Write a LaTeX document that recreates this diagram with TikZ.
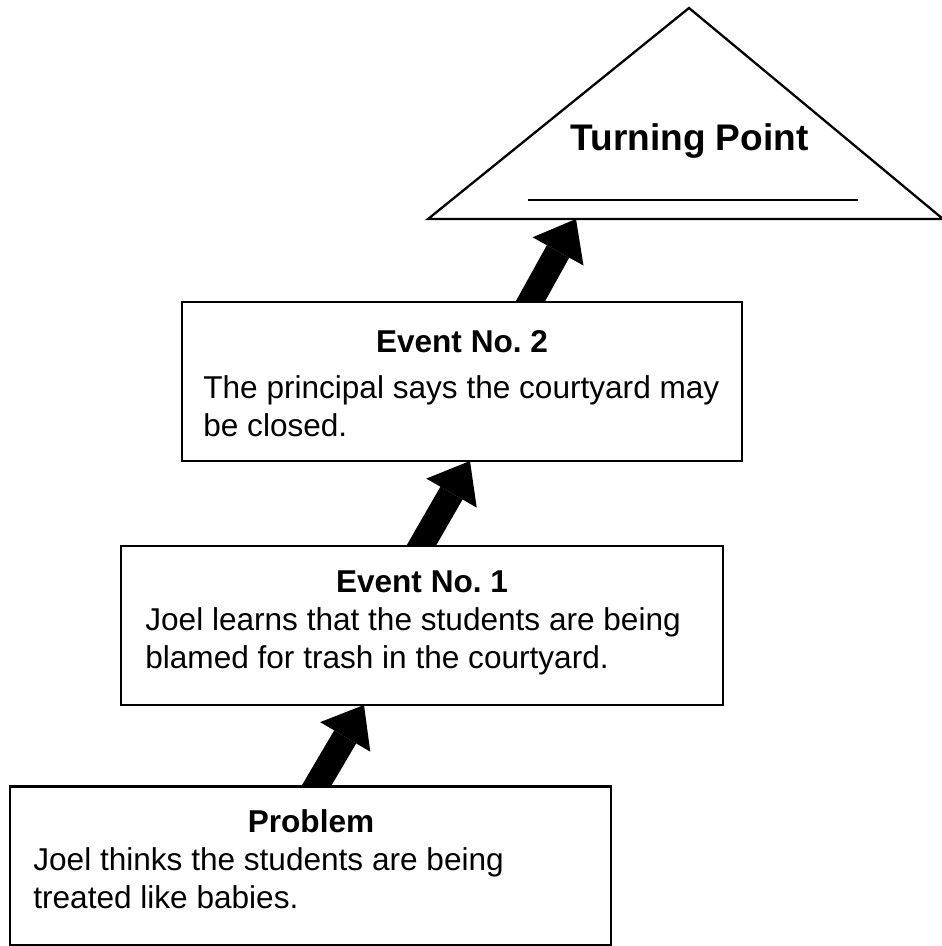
\documentclass[tikz,border=0pt]{standalone}
\usepackage{fontspec}
\setmainfont{Liberation Sans}
\usetikzlibrary{arrows.meta,calc,backgrounds}
\def\px{0.5669pt}
\tikzset{
  storybox/.style={draw, fill=white, line width=1.5pt, inner sep=0pt, outer sep=0pt, minimum height=159*\px},
  boxtitle/.style={anchor=base, inner sep=0pt, font=\fontsize{17.9}{21.5}\selectfont\bfseries\frenchspacing},
  boxtext/.style={anchor=base west, inner sep=0pt, font=\fontsize{17.9}{21.5}\selectfont},
  bigarrow/.style={line width=14.5pt, shorten <=-14pt, -{Triangle[width=33pt, length=21pt, line width=0pt]}},
}
\begin{document}
\begin{tikzpicture}[x=\px, y=-\px]
\useasboundingbox (0,0) rectangle (942,946);
% turning point
\coordinate (tpl) at (428,219);
\coordinate (apex) at (689,8);
\coordinate (tpr) at (943,219);
\draw[line width=1.3pt, line join=miter] (tpl) -- (apex) -- (tpr) -- cycle;
\node[inner sep=0pt, anchor=base, font=\fontsize{21}{25}\selectfont\bfseries] (tptitle) at (689.5,150) {Turning Point};
\coordinate (tpa) at (528,200);
\coordinate (tpb) at (858,200);
\draw[line width=1pt] (tpa) -- (tpb);

% boxes
\node[storybox, minimum width=601*\px] (prob) at (310.5,866) {};
\node[boxtitle] (probtitle) at (311,832) {Problem};
\node[boxtext] (prob1) at (33,870) {Joel thinks the students are being};
\node[boxtext] (prob2) at (33,908) {treated like babies.};

\node[storybox, minimum width=602*\px] (ev1) at (422,625.5) {};
\node[boxtitle] (ev1title) at (422,592) {Event No. 1};
\node[boxtext] (ev11) at (145,630) {Joel learns that the students are being};
\node[boxtext] (ev12) at (145,668) {blamed for trash in the courtyard.};

\node[storybox, minimum width=560*\px] (ev2) at (462,381.5) {};
\node[boxtitle] (ev2title) at (462,352) {Event No. 2};
\node[boxtext] (ev21) at (203,398) {The principal says the courtyard may};
\node[boxtext] (ev22) at (203,436) {be closed.};

% arrows
\begin{scope}[on background layer]
\draw[bigarrow] ($(prob.north west)+(306,0)$) -- ($(ev1.south west)+(243,0)$);
\draw[bigarrow] ($(ev1.north west)+(300,0)$) -- ($(ev2.south west)+(288,0)$);
\draw[bigarrow] ($(ev2.north west)+(348,0)$) -- ($(tpl)+(148,0)$);
\end{scope}

\end{tikzpicture}
\end{document}
